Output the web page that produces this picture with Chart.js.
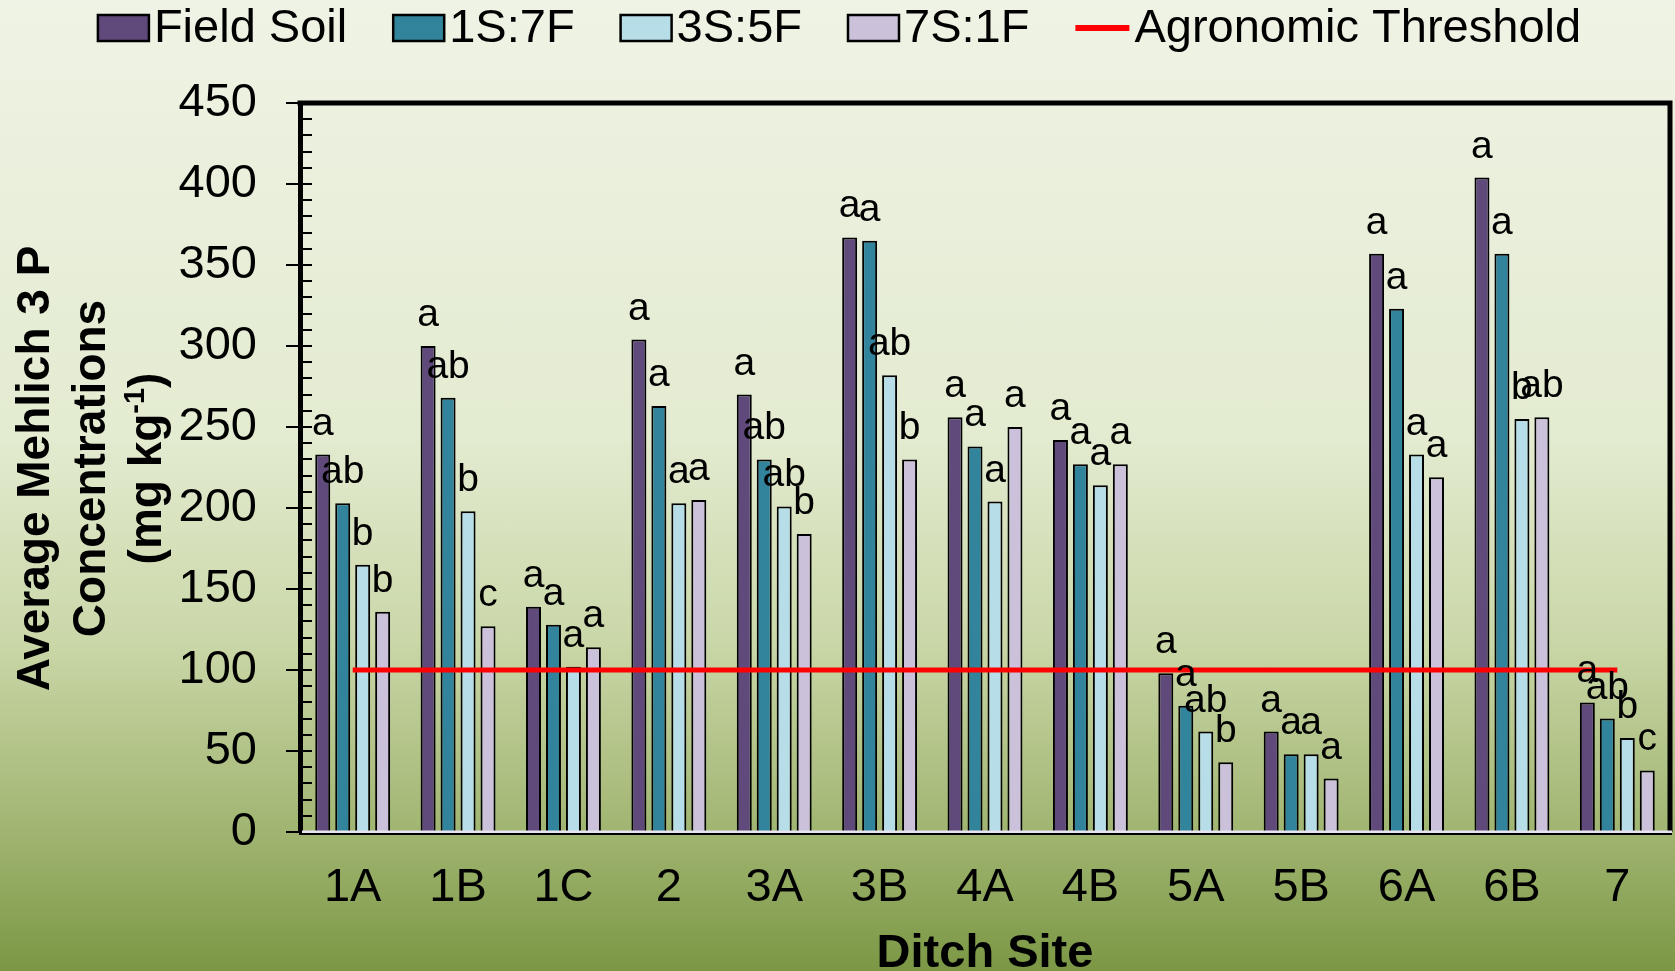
<!DOCTYPE html>
<html>
<head>
<meta charset="utf-8">
<script src="https://cdn.jsdelivr.net/npm/chart.js@4.4.1/dist/chart.umd.min.js"></script>
<style>
  html, body { margin: 0; padding: 0; }
  body {
    width: 1675px; height: 971px; overflow: hidden;
    background: linear-gradient(to bottom, #eff3e5 0%, #e3ebd0 45%, #cad7a8 66%, #a2b673 85%, #7b9744 100%);
  }
  canvas { display: block; }
</style>
</head>
<body>
<canvas id="chart" width="1675" height="971"></canvas>
<script>
// Ditch sites along the x axis
const sites = ['1A', '1B', '1C', '2', '3A', '3B', '4A', '4B', '5A', '5B', '6A', '6B', '7'];

// Average Mehlich 3 P (mg/kg) per soil : fill mixture
const fieldSoil = [233, 300, 139, 304, 270, 367, 256, 242, 98, 62, 357, 404, 80];
const mix1S7F   = [203, 268, 128, 263, 230, 365, 238, 227, 78, 48, 323, 357, 70];
const mix3S5F   = [165, 198, 102, 203, 201, 282, 204, 214, 62, 48, 233, 255, 58];
const mix7S1F   = [136, 127, 114, 205, 184, 230, 250, 227, 43, 33, 219, 256, 38];

// Mean separation letters shown above each bar
const lettersField = ['a', 'a', 'a', 'a', 'a', 'a', 'a', 'a', 'a', 'a', 'a', 'a', 'a'];
const letters1S7F  = ['ab', 'ab', 'a', 'a', 'ab', 'a', 'a', 'a', 'a', 'a', 'a', 'a', 'ab'];
const letters3S5F  = ['b', 'b', 'a', 'a', 'ab', 'ab', 'a', 'a', 'ab', 'a', 'a', 'b', 'b'];
const letters7S1F  = ['b', 'c', 'a', 'a', 'b', 'b', 'a', 'a', 'b', 'a', 'a', 'ab', 'c'];

// Agronomic threshold for P (mg/kg)
const thresholdValue = 100;
const threshold = sites.map(() => thresholdValue);

// Y axis range and tick step
const yMin = 0, yMax = 450, yStep = 50, yMinorStep = 10;

const FONT = '"Liberation Sans", Arial, Helvetica, sans-serif';

const barStyle = {
  borderColor: '#000000',
  borderWidth: 2,
  borderSkipped: 'start',
  categoryPercentage: 0.758,
  barPercentage: 0.75,
  order: 1
};

// Legend, axis titles, plot frame, minor ticks and bar letters
const decorations = {
  id: 'decorations',
  afterDatasetsDraw(chart) {
    const ctx = chart.ctx;
    ctx.save();
    ctx.font = '39px ' + FONT;
    ctx.fillStyle = '#000';
    ctx.textAlign = 'center';
    ctx.textBaseline = 'alphabetic';
    chart.data.datasets.forEach((ds, i) => {
      if (!ds.letters) return;
      const meta = chart.getDatasetMeta(i);
      meta.data.forEach((bar, j) => {
        ctx.fillText(ds.letters[j], bar.x, bar.y - 20);
      });
    });
    ctx.restore();
  },
  afterDraw(chart) {
    const ctx = chart.ctx;
    const a = chart.chartArea;
    const y = chart.scales.y;
    ctx.save();

    // inner minor ticks on the value axis
    ctx.strokeStyle = '#000';
    ctx.lineWidth = 2;
    for (let v = yMin + yMinorStep; v < yMax; v += yMinorStep) {
      const py = Math.round(y.getPixelForValue(v));
      ctx.beginPath();
      ctx.moveTo(a.left, py);
      ctx.lineTo(a.left + 12, py);
      ctx.stroke();
    }

    // top and right frame
    ctx.lineWidth = 5;
    ctx.beginPath();
    ctx.moveTo(a.left - 2.5, a.top);
    ctx.lineTo(a.right, a.top);
    ctx.lineTo(a.right, a.bottom);
    ctx.stroke();

    // category axis line
    ctx.fillStyle = '#e6e4ef';
    ctx.fillRect(a.left + 2, a.bottom - 1.5, a.right - a.left, 2.5);
    ctx.fillStyle = '#000';
    ctx.fillRect(a.left - 1, a.bottom + 1, a.right - a.left + 3, 2);

    // x axis title
    ctx.font = 'bold 47px ' + FONT;
    ctx.textAlign = 'center';
    ctx.textBaseline = 'alphabetic';
    ctx.fillText('Ditch Site', (a.left + a.right) / 2, 967);

    // y axis title (three lines, rotated)
    const cy = (a.top + a.bottom) / 2 + 1;
    const titleFont = 'bold 46px ' + FONT;
    const supFont = 'bold 29px ' + FONT;
    const drawRot = (x, parts) => {
      ctx.save();
      ctx.translate(x, cy);
      ctx.rotate(-Math.PI / 2);
      ctx.textAlign = 'left';
      let total = 0;
      parts.forEach(p => { ctx.font = p.sup ? supFont : titleFont; total += ctx.measureText(p.t).width; });
      let cx = -total / 2;
      parts.forEach(p => {
        ctx.font = p.sup ? supFont : titleFont;
        ctx.fillText(p.t, cx, p.sup ? -17 : 0);
        cx += ctx.measureText(p.t).width;
      });
      ctx.restore();
    };
    drawRot(49, [{ t: 'Average Mehlich 3 P' }]);
    drawRot(105, [{ t: 'Concentrations' }]);
    drawRot(161, [{ t: '(mg kg' }, { t: '-1', sup: true }, { t: ')' }]);

    // legend
    ctx.font = '47px ' + FONT;
    ctx.textBaseline = 'middle';
    ctx.textAlign = 'left';
    const boxW = 51, boxH = 26, boxGap = 5, itemGap = 46, lineW = 54;
    const items = chart.data.datasets.map(ds => ({
      label: ds.label,
      color: ds.type === 'line' ? ds.borderColor : ds.backgroundColor,
      line: ds.type === 'line'
    }));
    let totalW = 0;
    items.forEach((it, k) => {
      it.w = (it.line ? lineW + 5 : boxW + boxGap) + ctx.measureText(it.label).width;
      totalW += it.w + (k ? itemGap : 0);
    });
    let lx = chart.width / 2 + 2 - totalW / 2;
    const ly = 28;
    items.forEach(it => {
      if (it.line) {
        ctx.fillStyle = it.color;
        ctx.fillRect(lx, ly - 3, lineW, 6);
        ctx.fillStyle = '#000';
        ctx.fillText(it.label, lx + lineW + 5, ly + 1);
      } else {
        ctx.fillStyle = it.color;
        ctx.fillRect(lx, ly - boxH / 2, boxW, boxH);
        ctx.strokeStyle = '#000';
        ctx.lineWidth = 2.5;
        ctx.strokeRect(lx, ly - boxH / 2, boxW, boxH);
        ctx.fillStyle = '#000';
        ctx.fillText(it.label, lx + boxW + boxGap, ly + 1);
      }
      lx += it.w + itemGap;
    });

    ctx.restore();
  }
};

new Chart(document.getElementById('chart'), {
  type: 'bar',
  data: {
    labels: sites,
    datasets: [
      { label: 'Field Soil', data: fieldSoil, backgroundColor: '#604a7b', letters: lettersField, ...barStyle },
      { label: '1S:7F', data: mix1S7F, backgroundColor: '#31849b', letters: letters1S7F, ...barStyle },
      { label: '3S:5F', data: mix3S5F, backgroundColor: '#b7dee8', letters: letters3S5F, ...barStyle },
      { label: '7S:1F', data: mix7S1F, backgroundColor: '#ccc1da', letters: letters7S1F, ...barStyle },
      {
        type: 'line', label: 'Agronomic Threshold', data: threshold,
        borderColor: '#ff0000', backgroundColor: '#ff0000', borderWidth: 5,
        pointRadius: 0, pointHoverRadius: 0, fill: false, tension: 0, order: 0
      }
    ]
  },
  options: {
    responsive: false,
    animation: false,
    devicePixelRatio: 1,
    layout: { padding: { top: 103, right: 5, left: 0, bottom: 0 } },
    plugins: {
      legend: { display: false },
      tooltip: { enabled: false },
      title: { display: false }
    },
    scales: {
      x: {
        type: 'category',
        offset: true,
        grid: { display: false, drawTicks: false },
        border: { display: false },
        ticks: { color: '#000', font: { family: FONT, size: 47 }, padding: 28, maxRotation: 0, autoSkip: false },
        afterFit(scale) { scale.height = 139; }
      },
      y: {
        min: yMin, max: yMax,
        grid: { display: true, drawOnChartArea: false, drawTicks: true, tickLength: 14, color: '#000', lineWidth: 2 },
        border: { display: true, color: '#000', width: 5 },
        ticks: { stepSize: yStep, color: '#000', font: { family: FONT, size: 47 }, padding: 29 },
        afterFit(scale) { scale.width = 300; }
      }
    }
  },
  plugins: [decorations]
});
</script>
</body>
</html>
